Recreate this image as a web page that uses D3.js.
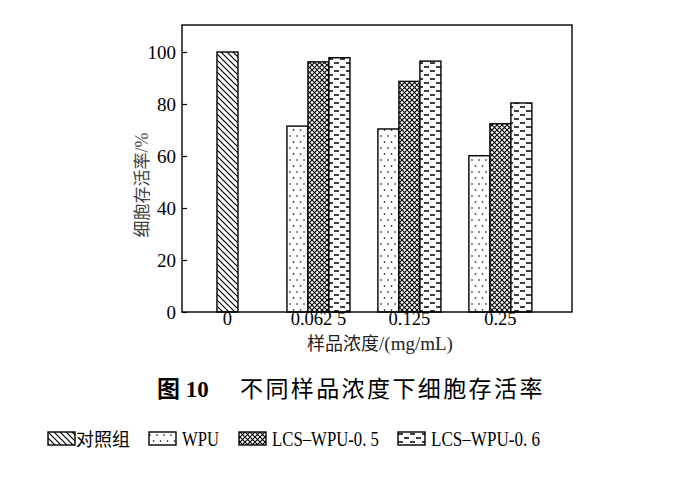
<!DOCTYPE html>
<html>
<head>
<meta charset="utf-8">
<script src="https://cdn.jsdelivr.net/npm/d3@7"></script>
<style>
  body { margin: 0; background: #fff; }
  .num { font-family: "Liberation Serif", "DejaVu Serif", serif; }
  .cjk { font-family: "Noto Sans CJK SC", sans-serif; }
</style>
</head>
<body>
<script>
// concentrations (mg/mL)
const categories = ["0", "0.062 5", "0.125", "0.25"];
const seriesNames = ["对照组", "WPU", "LCS–WPU-0. 5", "LCS–WPU-0. 6"];
// cell viability %, null = not measured
const control   = [100, null, null, null];
const wpu       = [null, 71.5, 70.4, 60.1];
const lcs05     = [null, 96.2, 88.7, 72.4];
const lcs06     = [null, 97.8, 96.5, 80.4];
const yTicks = [0, 20, 40, 60, 80, 100];

const allSeries = [control, wpu, lcs05, lcs06];

const W = 686, H = 477;
let margin = {top: 25, right: 114, bottom: 165, left: 182}
  , width = W - margin.left - margin.right
  , height = H - margin.top - margin.bottom;

const svg = d3.select("body").append("svg")
    .attr("width", W)
    .attr("height", H);

// fill patterns
const defs = svg.append("defs");
const pats = ["p-diag", "p-dot", "p-cross", "p-dash"];

let p = defs.append("pattern").attr("id", "p-diag").attr("patternUnits", "userSpaceOnUse")
  .attr("width", 6).attr("height", 6);
p.append("rect").attr("width", 6).attr("height", 6).attr("fill", "#fff");
p.append("path").attr("d", "M0,0 L6,6 M-1,5 L1,7 M5,-1 L7,1")
  .attr("stroke", "#000").attr("stroke-width", 1.2);

p = defs.append("pattern").attr("id", "p-dot").attr("patternUnits", "userSpaceOnUse")
  .attr("width", 14).attr("height", 12);
p.append("rect").attr("width", 14).attr("height", 12).attr("fill", "#fff");
[[3, 3], [10, 3], [6.5, 9], [13.5, 9], [-0.5, 9]].forEach(([cx, cy]) =>
  p.append("circle").attr("cx", cx).attr("cy", cy).attr("r", 0.8).attr("fill", "#000"));

p = defs.append("pattern").attr("id", "p-cross").attr("patternUnits", "userSpaceOnUse")
  .attr("width", 5).attr("height", 5);
p.append("rect").attr("width", 5).attr("height", 5).attr("fill", "#fff");
p.append("path").attr("d", "M0,0 L5,5 M5,0 L0,5")
  .attr("stroke", "#000").attr("stroke-width", 1.1);

p = defs.append("pattern").attr("id", "p-dash").attr("patternUnits", "userSpaceOnUse")
  .attr("width", 12).attr("height", 8);
p.append("rect").attr("width", 12).attr("height", 8).attr("fill", "#fff");
p.append("path").attr("d", "M2,2 L7,2 M8,6 L13,6 M-4,6 L1,6")
  .attr("stroke", "#000").attr("stroke-width", 1.6);

const g = svg.append("g")
    .attr("transform", "translate(" + margin.left + "," + margin.top + ")");

const xScale = d3.scaleBand().domain(categories).range([0, width * 0.933]);
const yScale = d3.scaleLinear().domain([0, 100]).range([height, height - 260]);
const barW = 21;

// bars: series present in a group are centred on the band
categories.forEach((c, ci) => {
  const present = allSeries.map((s, si) => ({si, v: s[ci]})).filter(d => d.v != null);
  const start = xScale(c) + xScale.bandwidth() / 2 - present.length * barW / 2;
  g.selectAll(".bar-" + ci)
    .data(present)
    .enter().append("rect")
      .attr("x", (d, i) => start + i * barW)
      .attr("y", d => yScale(d.v))
      .attr("width", barW)
      .attr("height", d => yScale(0) - yScale(d.v))
      .attr("fill", d => "url(#" + pats[d.si] + ")")
      .attr("stroke", "#000")
      .attr("stroke-width", 1.4);
});

// frame
g.append("rect")
  .attr("width", width).attr("height", height)
  .attr("fill", "none").attr("stroke", "#000").attr("stroke-width", 1.4);

// y axis, ticks inside
const yAxis = g.append("g")
    .call(d3.axisLeft(yScale).tickValues(yTicks).tickSize(-5).tickPadding(6));
yAxis.select(".domain").remove();
yAxis.selectAll("line").attr("stroke", "#000").attr("stroke-width", 1.2);
yAxis.selectAll("text").attr("class", "num").style("font-size", "19px").attr("fill", "#000");

// x axis labels
const xAxis = g.append("g")
    .attr("transform", "translate(0," + height + ")")
    .call(d3.axisBottom(xScale).tickSize(0).tickPadding(0));
xAxis.select(".domain").remove();
xAxis.selectAll("text").attr("class", "num").style("font-size", "18.5px").attr("fill", "#000");

// axis titles
g.append("text")
  .attr("x", 198).attr("y", height + 38)
  .attr("text-anchor", "middle")
  .style("font-size", "18px").attr("fill", "#222")
  .html('<tspan class="cjk">样品浓度</tspan><tspan class="num" font-size="19px">/(mg/mL)</tspan>');

g.append("text")
  .attr("transform", "translate(-34,160) rotate(-90)")
  .attr("text-anchor", "middle")
  .style("font-size", "17px").attr("fill", "#444")
  .html('<tspan class="cjk">细胞存活率</tspan><tspan class="num" font-size="18px">/%</tspan>');

// caption
svg.append("text")
  .attr("x", 157).attr("y", 397)
  .style("font-size", "23px").attr("fill", "#000")
  .html('<tspan class="cjk" font-weight="bold">图</tspan><tspan class="num" font-weight="bold"> 10</tspan>' +
        '<tspan class="cjk" x="240" letter-spacing="2.4">不同样品浓度下细胞存活率</tspan>');

// legend
const legendX = [48, 149, 239, 398];
const legendLen = [null, 37, 107, 109];
const legend = svg.append("g").attr("transform", "translate(0,432)");
seriesNames.forEach((name, i) => {
  legend.append("rect")
    .attr("x", legendX[i]).attr("y", 0)
    .attr("width", 27).attr("height", 13)
    .attr("fill", "url(#" + pats[i] + ")")
    .attr("stroke", "#000").attr("stroke-width", 1.4);
  const t = legend.append("text")
    .attr("x", legendX[i] + (i === 0 ? 28 : 33)).attr("y", 14)
    .attr("class", i === 0 ? "cjk" : "num")
    .style("font-size", i === 0 ? "18px" : "20px")
    .attr("fill", "#000")
    .text(name);
  if (legendLen[i]) t.attr("textLength", legendLen[i]).attr("lengthAdjust", "spacingAndGlyphs");
});
</script>
</body>
</html>
